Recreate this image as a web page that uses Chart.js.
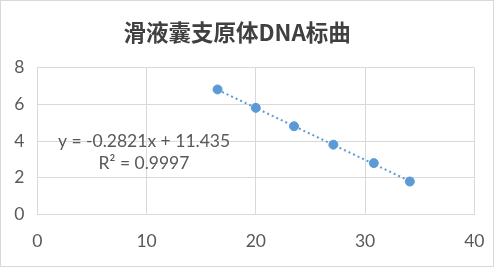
<!DOCTYPE html>
<html><head><meta charset="utf-8">
<script src="https://cdn.jsdelivr.net/npm/chart.js@4"></script>
<style>html,body{margin:0;padding:0;background:#fff}#wrap{width:494px;height:267px}</style>
</head><body><div id="wrap"><canvas id="c" width="494" height="267"></canvas></div>
<script>
const titleText = '滑液囊支原体DNA标曲';
const xValues = [16.5, 20.0, 23.5, 27.1, 30.8, 34.1];
const yValues = [6.8, 5.8, 4.8, 3.8, 2.8, 1.8];
const trendX = [16.5, 34.1];
const trendY = [6.78, 1.82];
const equationText = 'y = -0.2821x + 11.435';
const r2Text = 'R² = 0.9997';
const xTicks = [0, 10, 20, 30, 40];
const yTicks = [0, 2, 4, 6, 8];

const blue = '#5b9bd5';
const grid = '#d9d9d9';
const txt = '#595959';
const numFont = 'Lato, "Liberation Sans", sans-serif';

const deco = {
  id: 'deco',
  afterDraw(chart) {
    const ctx = chart.ctx;
    ctx.save();
    ctx.strokeStyle = '#d9d9d9';
    ctx.lineWidth = 1;
    ctx.strokeRect(0.5, 0.5, 493, 266);
    ctx.fillStyle = txt;
    ctx.font = '17.5px ' + numFont;
    ctx.textAlign = 'center';
    ctx.textBaseline = 'middle';
    ctx.fillText(equationText, 144, 141);
    ctx.fillText(r2Text, 144, 163);
    ctx.restore();
  }
};

new Chart(document.getElementById('c'), {
  type: 'scatter',
  data: {
    datasets: [
      {
        data: xValues.map((x, i) => ({x, y: yValues[i]})),
        backgroundColor: blue, borderColor: blue,
        pointRadius: 4.5, pointHoverRadius: 4.5, showLine: false, order: 1
      },
      {
        data: trendX.map((x, i) => ({x, y: trendY[i]})),
        borderColor: blue, borderWidth: 2, borderDash: [2, 3], borderCapStyle: 'butt',
        pointRadius: 0, showLine: true, fill: false, order: 2
      }
    ]
  },
  options: {
    responsive: false, animation: false, devicePixelRatio: 1,
    layout: { padding: { left: 0, right: 19.7, top: 0, bottom: 0 } },
    plugins: {
      legend: { display: false }, tooltip: { enabled: false },
      title: {
        display: true, text: titleText, color: '#404040',
        font: { family: '"Noto Sans CJK SC", sans-serif', size: 22.5, weight: 'bold', lineHeight: 1.2 },
        padding: { top: 19, bottom: 21.3 }
      }
    },
    scales: {
      x: {
        type: 'linear', min: 0, max: 40,
        afterBuildTicks: a => { a.ticks = xTicks.map(v => ({value: v})); },
        grid: { color: grid, tickLength: 0, drawTicks: false },
        border: { color: grid },
        ticks: { color: txt, font: { family: numFont, size: 17.5 }, padding: 16 },
        afterFit: a => { a.height = 52.3; a.paddingLeft = 0; a.paddingRight = 0; }
      },
      y: {
        type: 'linear', min: 0, max: 8,
        afterBuildTicks: a => { a.ticks = yTicks.map(v => ({value: v})); },
        grid: { color: grid, tickLength: 0, drawTicks: false },
        border: { color: grid },
        ticks: { color: txt, font: { family: numFont, size: 17.5 }, padding: 13 },
        afterFit: a => { a.width = 37.3; a.paddingTop = 0; a.paddingBottom = 0; }
      }
    }
  },
  plugins: [deco]
});
</script></body></html>
